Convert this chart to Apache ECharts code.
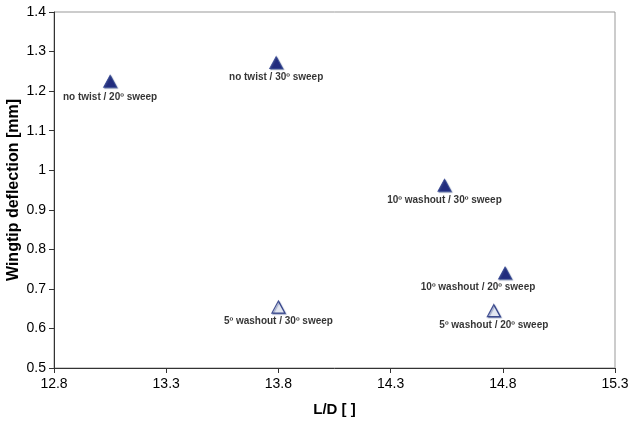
<!DOCTYPE html>
<html>
<head>
<meta charset="utf-8">
<script src="https://cdn.jsdelivr.net/npm/echarts@6/dist/echarts.min.js"></script>
<style>
  html, body { margin: 0; padding: 0; background: #fff; }
  #chart { width: 644px; height: 426px; }
</style>
</head>
<body>
<div id="chart"></div>
<script>
// wing configurations
var configNames = ['no twist / 20º sweep', 'no twist / 30º sweep', '10º washout / 30º sweep',
  '10º washout / 20º sweep', '5º washout / 20º sweep', '5º washout / 30º sweep'];
var ldValues = [13.05, 13.79, 14.54, 14.81, 14.76, 13.80];
var deflValues = [1.225, 1.272, 0.962, 0.740, 0.645, 0.654];
var hollow = [false, false, false, false, true, true];

// label nudge (px) so texts sit like in the original
var labelShift = [[0, 2], [0, 0], [0, 1], [-27, 0], [0, 0], [0, 0]];

var chart = echarts.init(document.getElementById('chart'));

var points = [];
for (var i = 0; i < ldValues.length; i++) {
  points.push({
    value: [ldValues[i], deflValues[i]],
    name: configNames[i],
    itemStyle: hollow[i]
      ? { color: '#f4f6fb', borderColor: '#1a2a7a', borderWidth: 1.2,
          shadowColor: 'rgba(60,80,140,0.6)', shadowOffsetX: 1, shadowOffsetY: 1, shadowBlur: 1 }
      : { color: '#050f6e', borderColor: '#2a3d8c', borderWidth: 1,
          shadowColor: 'rgba(40,60,120,0.6)', shadowOffsetX: 1, shadowOffsetY: 1, shadowBlur: 1 },
    label: { offset: labelShift[i] }
  });
}

var option = {
  animation: false,
  backgroundColor: '#ffffff',
  grid: {
    left: 54, right: 29, top: 12, bottom: 58,
    containLabel: false,
    outerBoundsMode: 'none',
    show: true, borderColor: '#999', borderWidth: 1
  },
  xAxis: {
    type: 'value',
    min: 12.8, max: 15.3, interval: 0.5,
    name: 'L/D [ ]',
    nameLocation: 'middle',
    nameGap: 34,
    nameMoveOverlap: false,
    nameTextStyle: { fontFamily: 'Liberation Sans', fontWeight: 'bold', fontSize: 15, color: '#000' },
    axisLine: { show: true, lineStyle: { color: '#333', width: 1 } },
    axisTick: { show: true, length: 5, inside: false, lineStyle: { color: '#333' } },
    axisLabel: { fontFamily: 'Liberation Sans', fontSize: 14, color: '#000', margin: 9,
      formatter: function (v) { return v.toFixed(1); } },
    splitLine: { show: false }
  },
  yAxis: {
    type: 'value',
    min: 0.5, max: 1.4, interval: 0.1,
    name: 'Wingtip deflection [mm]',
    nameLocation: 'middle',
    nameRotate: 90,
    nameGap: 32,
    nameMoveOverlap: false,
    nameTextStyle: { fontFamily: 'Liberation Sans', fontWeight: 'bold', fontSize: 16, color: '#000' },
    axisLine: { show: true, lineStyle: { color: '#333', width: 1 } },
    axisTick: { show: true, length: 5, inside: false, lineStyle: { color: '#333' } },
    axisLabel: { fontFamily: 'Liberation Sans', fontSize: 14, color: '#000', margin: 8,
      formatter: function (v) { return (Math.round(v * 10) / 10).toString(); } },
    splitLine: { show: false }
  },
  series: [{
    type: 'scatter',
    symbol: 'triangle',
    symbolSize: [13, 12],
    data: points,
    label: {
      show: true,
      position: 'bottom',
      distance: 3,
      formatter: '{b}',
      fontFamily: 'Liberation Sans',
      fontWeight: 'bold',
      fontSize: 10,
      color: '#000'
    }
  }]
};

chart.setOption(option);
</script>
</body>
</html>
